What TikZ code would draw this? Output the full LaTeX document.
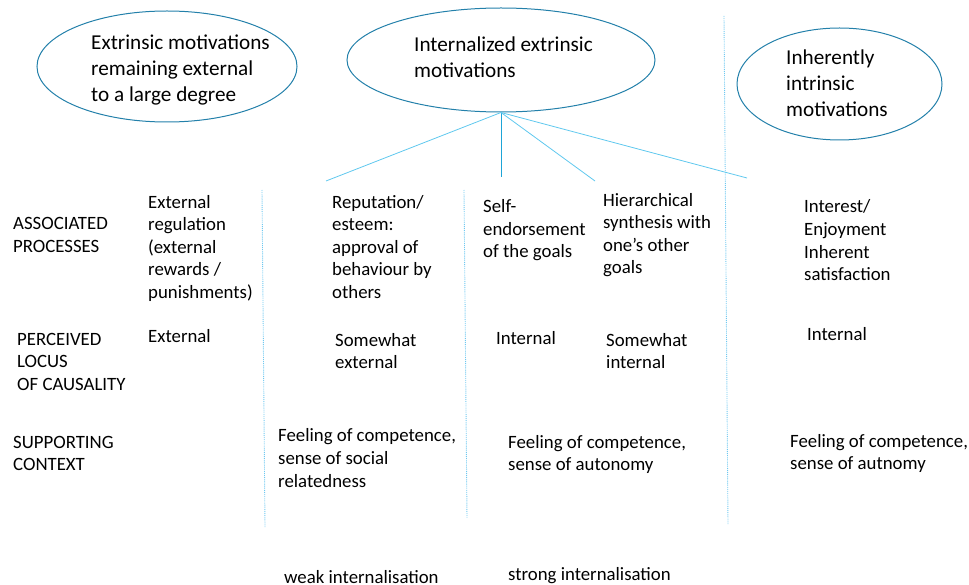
\documentclass[tikz,border=0pt]{standalone}
\usepackage{fontspec}
\setmainfont{Carlito}
\usepackage{tikz}
\usetikzlibrary{shapes.geometric}
\definecolor{ell}{RGB}{35,128,170}
\definecolor{ln}{RGB}{95,200,238}
\definecolor{lnd}{RGB}{30,165,215}
\definecolor{dv}{RGB}{110,200,240}
\tikzstyle{every node}=[inner sep=0pt]
\tikzstyle{motiv}=[ellipse,draw=ell,line width=1pt]
% base west sits on the last line of a block
\tikzstyle{txt}=[anchor=base west,align=left,font=\fontsize{18.8}{22.6}\selectfont]
\tikzstyle{big}=[anchor=base west,align=left,font=\fontsize{21.2}{25.7}\selectfont]
\tikzstyle{sep}=[dv,densely dotted,line width=0.9pt]

\begin{document}
\begin{tikzpicture}[x=1pt,y=-1pt]
	\useasboundingbox (0,0) rectangle (969,585);

	% the three kinds of motivation
	\draw node[motiv,minimum width=260,minimum height=111] (ext) at (167,66.5) {};
	\draw node[motiv,minimum width=308,minimum height=104] (int) at (501,60) {};
	\draw node[motiv,minimum width=205,minimum height=112] (inh) at (839.5,84) {};
	\draw node[big] (extT) at (91,101.4) {Extrinsic motivations\\remaining external\\to a large degree};
	\draw node[big] (intT) at (414,77.7) {Internalized extrinsic\\motivations};
	\draw node[big] (inhT) at (786,116.4) {Inherently\\intrinsic\\motivations};

	\coordinate (c1) at (326,181);
	\coordinate (c2) at (501,177);
	\coordinate (c3) at (595,181);
	\coordinate (c4) at (747,178);

	% row heads
	\draw node[txt] (proc) at (13,252.6) {ASSOCIATED\\PROCESSES};
	\draw node[txt] (locus) at (17,390.2) {PERCEIVED\\LOCUS\\OF CAUSALITY};
	\draw node[txt] (ctx) at (13,470.6) {SUPPORTING\\CONTEXT};

	% columns
	\draw node[txt] (p1) at (148,298.4) {External\\regulation\\(external\\rewards /\\punishments)};
	\draw node[txt] (l1) at (148,342) {External};

	\draw node[txt] (p2) at (332,298.4) {Reputation/\\esteem:\\approval of\\behaviour by\\others};
	\draw node[txt] (l2) at (335,368.6) {Somewhat\\external};
	\draw node[txt] (s2) at (278,487) {Feeling of competence,\\sense of social\\relatedness};

	\draw node[txt] (p3) at (483,258) {Self-\\endorsement\\of the goals};
	\draw node[txt] (l3) at (496,344) {Internal};
	\draw node[txt] (p4) at (603,274) {Hierarchical\\synthesis with\\one’s other\\goals};
	\draw node[txt] (l4) at (606,368.6) {Somewhat\\internal};
	\draw node[txt] (s3) at (508,470.6) {Feeling of competence,\\sense of autonomy};

	\draw node[txt] (p5) at (804,280.8) {Interest/\\Enjoyment\\Inherent\\satisfaction};
	\draw node[txt] (l5) at (807,341) {Internal};
	\draw node[txt] (s5) at (790,469.6) {Feeling of competence,\\sense of autnomy};

	\draw node[txt] (weak) at (284,583) {weak internalisation};
	\draw node[txt] (strong) at (508,580) {strong internalisation};

	% separators
	\draw[sep] (262,190) -- (265,527);
	\draw[sep] (464,190) -- (467,518);
	\draw[sep] (724,16) -- (728,525);

	\path[line width=0.8pt]
	(int.south) edge[ln] (c1)
	(int.south) edge[lnd] (c2)
	(int.south) edge[ln] (c3)
	(int.south) edge[ln] (c4)
	;
\end{tikzpicture}
\end{document}
